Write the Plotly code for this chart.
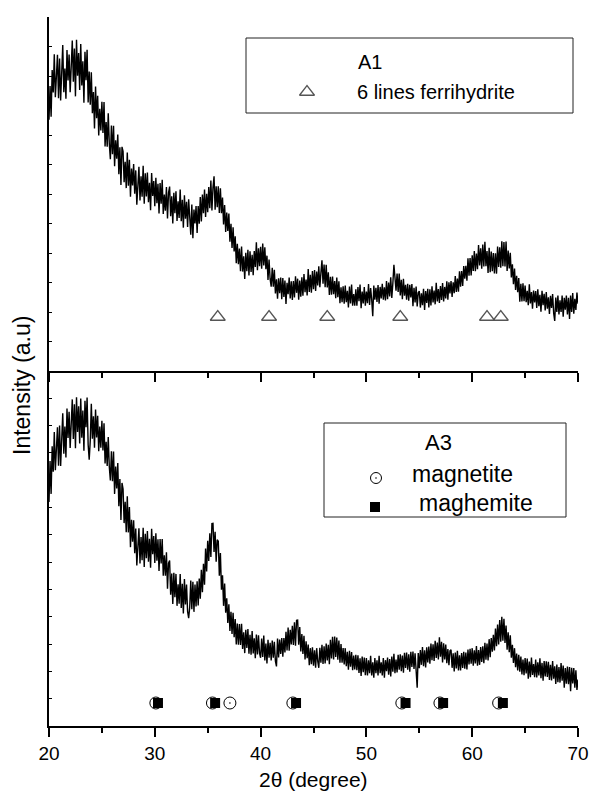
import numpy as np
import plotly.graph_objects as go

# ---- XRD scans: 2-theta from 20 to 70 deg, 0.1 deg step ----
SCAN_START = 20.0
SCAN_STEP = 0.1

# sample A1 (one row per degree: d.0 ... d.9; last value at 70.0)
A1_INTENSITY = [
    852, 966, 862, 1020, 944, 1074, 928, 1023, 1072, 925,
    1059, 917, 1031, 1105, 945, 1025, 923, 1088, 985, 1073,
    945, 1063, 1120, 981, 1093, 931, 1123, 1001, 1078, 953,
    1108, 968, 1050, 909, 1082, 986, 1089, 910, 1015, 903,
    1013, 874, 946, 822, 964, 857, 933, 798, 889, 815,
    913, 807, 912, 761, 844, 760, 874, 770, 718, 832,
    735, 831, 694, 782, 720, 802, 667, 758, 631, 760,
    745, 640, 709, 620, 741, 628, 716, 591, 686, 629,
    702, 601, 680, 564, 650, 692, 578, 660, 591, 696,
    567, 670, 592, 673, 572, 638, 545, 671, 593, 644,
    559, 655, 569, 635, 534, 637, 567, 648, 532, 598,
    543, 624, 517, 604, 625, 525, 592, 500, 604, 535,
    609, 509, 575, 519, 615, 508, 580, 486, 596, 516,
    574, 488, 582, 496, 462, 564, 450, 547, 500, 559,
    468, 559, 499, 590, 507, 598, 535, 615, 522, 601,
    538, 624, 552, 646, 544, 622, 660, 547, 626, 555,
    626, 536, 619, 535, 588, 497, 563, 471, 537, 475,
    534, 438, 499, 417, 487, 405, 457, 365, 431, 362,
    415, 338, 422, 337, 389, 312, 401, 338, 411, 324,
    406, 336, 394, 325, 407, 353, 436, 342, 416, 355,
    421, 347, 432, 358, 419, 345, 391, 309, 378, 312,
    286, 350, 286, 343, 263, 311, 245, 314, 264, 317,
    243, 315, 251, 307, 227, 299, 260, 317, 246, 304,
    241, 305, 249, 321, 265, 313, 242, 307, 252, 318,
    255, 329, 267, 310, 256, 346, 268, 326, 265, 339,
    277, 342, 271, 337, 290, 355, 284, 333, 375, 296,
    361, 284, 360, 283, 335, 258, 319, 259, 320, 260,
    305, 247, 317, 250, 304, 230, 284, 233, 287, 228,
    290, 233, 272, 215, 286, 229, 293, 221, 261, 221,
    277, 221, 285, 237, 293, 213, 269, 229, 285, 221,
    269, 230, 295, 224, 281, 242, 186, 290, 242, 282,
    234, 291, 228, 285, 246, 296, 242, 284, 239, 305,
    243, 300, 253, 318, 248, 297, 360, 317, 272, 330,
    268, 330, 256, 309, 243, 313, 255, 292, 242, 296,
    238, 292, 249, 295, 220, 282, 232, 286, 219, 265,
    271, 215, 263, 223, 279, 207, 271, 231, 279, 215,
    277, 222, 287, 232, 273, 226, 299, 236, 278, 231,
    288, 241, 298, 236, 285, 246, 304, 242, 301, 263,
    305, 251, 301, 264, 322, 268, 313, 269, 338, 286,
    339, 288, 356, 313, 357, 306, 382, 323, 383, 324,
    392, 339, 407, 338, 398, 345, 427, 358, 416, 347,
    429, 354, 438, 355, 407, 332, 418, 335, 405, 338,
    400, 331, 399, 330, 422, 353, 419, 350, 440, 355,
    437, 354, 439, 339, 408, 348, 401, 317, 362, 294,
    347, 275, 323, 267, 315, 235, 296, 236, 297, 237,
    290, 233, 272, 223, 294, 229, 268, 211, 273, 232,
    271, 214, 277, 220, 258, 201, 272, 223, 262, 205,
    268, 211, 250, 193, 255, 214, 261, 196, 170, 249,
    200, 256, 192, 240, 200, 256, 184, 248, 208, 256,
    192, 248, 176, 256, 200, 264, 194, 245, 207, 266,
    228,
]

# sample A3
A3_INTENSITY = [
    820, 970, 850, 1024, 931, 1077, 937, 1045, 1094, 953,
    1100, 952, 1091, 1145, 997, 1097, 983, 1163, 1055, 1151,
    1018, 1144, 1196, 1051, 1178, 1017, 1204, 1077, 1171, 1035,
    1199, 1056, 1155, 1008, 1191, 1094, 1203, 1030, 975, 1045,
    1180, 1052, 1134, 1019, 1159, 1057, 1136, 1006, 1097, 1019,
    1118, 1009, 1109, 961, 1041, 952, 1058, 949, 899, 1006,
    896, 1005, 850, 950, 870, 963, 805, 904, 754, 890,
    868, 743, 821, 710, 841, 709, 802, 655, 755, 675,
    753, 633, 723, 588, 686, 724, 595, 692, 607, 726,
    582, 704, 614, 714, 602, 686, 580, 722, 629, 696,
    597, 706, 605, 684, 568, 685, 595, 685, 550, 625,
    550, 636, 503, 596, 606, 481, 558, 447, 561, 472,
    557, 440, 519, 448, 557, 432, 521, 412, 538, 445,
    518, 420, 395, 435, 533, 428, 528, 418, 518, 438,
    530, 441, 540, 466, 572, 490, 594, 517, 650, 566,
    678, 604, 706, 619, 741, 742, 637, 711, 602, 682,
    677, 550, 633, 499, 552, 440, 522, 415, 468, 377,
    446, 348, 418, 337, 415, 325, 392, 299, 375, 298,
    373, 297, 374, 282, 343, 267, 352, 286, 355, 265,
    334, 261, 348, 266, 321, 248, 335, 262, 332, 267,
    250, 320, 253, 331, 240, 302, 229, 316, 250, 305,
    240, 313, 250, 308, 237, 218, 320, 251, 317, 264,
    322, 254, 322, 269, 345, 277, 361, 276, 352, 299,
    367, 297, 380, 294, 387, 388, 298, 362, 273, 337,
    264, 330, 244, 310, 248, 298, 223, 285, 226, 288,
    221, 277, 213, 285, 237, 213, 286, 232, 297, 227,
    292, 229, 302, 240, 297, 226, 316, 247, 327, 244,
    328, 253, 324, 243, 313, 232, 300, 232, 285, 225,
    285, 219, 272, 206, 275, 217, 271, 204, 258, 207,
    261, 204, 259, 194, 248, 183, 254, 197, 251, 186,
    249, 185, 241, 193, 257, 185, 233, 177, 249, 193,
    241, 185, 257, 193, 233, 185, 249, 177, 241, 201,
    251, 188, 245, 181, 254, 199, 264, 193, 243, 196,
    261, 206, 263, 201, 258, 195, 268, 213, 269, 206,
    263, 199, 272, 216, 273, 209, 266, 210, 140, 267,
    212, 278, 224, 289, 219, 277, 214, 288, 233, 291,
    228, 302, 241, 299, 238, 312, 249, 306, 244, 325,
    254, 308, 233, 303, 244, 298, 230, 282, 223, 275,
    279, 213, 266, 200, 269, 211, 275, 203, 259, 203,
    267, 213, 272, 210, 269, 207, 280, 225, 283, 228,
    285, 221, 277, 229, 293, 221, 278, 224, 289, 235,
    292, 230, 305, 243, 302, 240, 318, 252, 322, 272,
    334, 277, 357, 292, 372, 299, 388, 309, 400, 312,
    393, 304, 368, 279, 343, 270, 332, 250, 297, 231,
    285, 215, 265, 203, 261, 199, 254, 189, 243, 186,
    249, 192, 247, 173, 236, 179, 251, 187, 227, 179,
    243, 178, 233, 185, 248, 175, 231, 166, 238, 181,
    237, 180, 235, 169, 224, 167, 238, 173, 219, 154,
    225, 160, 216, 159, 231, 166, 221, 140, 212, 155,
    218, 153, 216, 127, 213, 156, 212, 140, 204, 132,
    170,
]

# reference reflections (2-theta, deg)
FERRIHYDRITE_PEAKS = [35.95, 40.8, 46.3, 53.2, 61.4, 62.7]
MAGNETITE_PEAKS = [30.1, 35.45, 37.1, 43.05, 53.35, 56.95, 62.5]
MAGHEMITE_PEAKS = [30.3, 35.7, 43.35, 53.7, 57.25, 62.9]

X_RANGE = [20, 70]
TOP_Y_RANGE = [0, 1200]
BOTTOM_Y_RANGE = [0, 1300]

two_theta = np.round(SCAN_START + SCAN_STEP * np.arange(len(A1_INTENSITY)), 2)
assert len(A1_INTENSITY) == len(A3_INTENSITY) == 501

# ---- page geometry (pixels) ----
W, H = 591, 792
PL, PR = 49, 578              # plot left / right
PT, PMID, PB = 17, 371, 726   # top, panel divider, bottom
SPLIT = (PB - PMID) / (PB - PT)

FONT = "Liberation Sans, Arial, sans-serif"


def px_to_x(px):
    return X_RANGE[0] + (px - PL) * (X_RANGE[1] - X_RANGE[0]) / (PR - PL)


def py_to_top(py):
    return (PMID - py) * TOP_Y_RANGE[1] / (PMID - PT)


def py_to_bottom(py):
    return (PB - py) * BOTTOM_Y_RANGE[1] / (PB - PMID)


def paper_x(px):
    return (px - PL) / (PR - PL)


def paper_y(py):
    return (PB - py) / (PB - PT)


TOP_MARK_LEVEL = py_to_top(317)
BOTTOM_MARK_LEVEL = py_to_bottom(703)

fig = go.Figure()

line_style = dict(color="black", width=1.4)
fig.add_trace(go.Scatter(x=two_theta, y=A1_INTENSITY, xaxis="x2", yaxis="y2",
                         mode="lines", line=line_style, hoverinfo="skip"))
fig.add_trace(go.Scatter(x=two_theta, y=A3_INTENSITY, xaxis="x", yaxis="y",
                         mode="lines", line=line_style, hoverinfo="skip"))

tri = dict(symbol="triangle-up-open", size=13, color="#555555",
           line=dict(color="#555555", width=1.3))
circ = dict(symbol="circle-open-dot", size=12, color="black",
            line=dict(color="black", width=1))
sq = dict(symbol="square", size=10, color="black",
          line=dict(color="black", width=0))

# phase markers
fig.add_trace(go.Scatter(x=FERRIHYDRITE_PEAKS, y=[TOP_MARK_LEVEL] * len(FERRIHYDRITE_PEAKS),
                         xaxis="x2", yaxis="y2", mode="markers", marker=tri))
fig.add_trace(go.Scatter(x=MAGNETITE_PEAKS, y=[BOTTOM_MARK_LEVEL] * len(MAGNETITE_PEAKS),
                         xaxis="x", yaxis="y", mode="markers", marker=circ))
fig.add_trace(go.Scatter(x=MAGHEMITE_PEAKS, y=[BOTTOM_MARK_LEVEL] * len(MAGHEMITE_PEAKS),
                         xaxis="x", yaxis="y", mode="markers", marker=sq))

# key symbols inside the boxes
fig.add_trace(go.Scatter(x=[px_to_x(307)], y=[py_to_top(92)], xaxis="x2", yaxis="y2",
                         mode="markers", marker=tri, cliponaxis=False))
fig.add_trace(go.Scatter(x=[px_to_x(376)], y=[py_to_bottom(478)], xaxis="x", yaxis="y",
                         mode="markers", marker=dict(circ, size=11), cliponaxis=False))
fig.add_trace(go.Scatter(x=[px_to_x(375)], y=[py_to_bottom(507)], xaxis="x", yaxis="y",
                         mode="markers", marker=sq, cliponaxis=False))

box_line = dict(color="#222222", width=1)
shapes = [
    dict(type="rect", xref="paper", yref="paper",
         x0=paper_x(246), x1=paper_x(573), y0=paper_y(113), y1=paper_y(38),
         line=box_line, fillcolor="rgba(0,0,0,0)", layer="below"),
    dict(type="rect", xref="paper", yref="paper",
         x0=paper_x(324), x1=paper_x(566), y0=paper_y(517), y1=paper_y(423),
         line=box_line, fillcolor="rgba(0,0,0,0)", layer="below"),
]


def label(text, px, py, size, anchor="left", angle=0):
    return dict(text=text, xref="paper", yref="paper", x=paper_x(px), y=paper_y(py),
                xanchor=anchor, yanchor="middle", showarrow=False, textangle=angle,
                font=dict(family=FONT, size=size, color="black"))


annotations = [
    label("A1", 356, 62, 20),
    label("6 lines ferrihydrite", 355, 92, 20),
    label("A3", 423, 443, 22),
    label("magnetite", 410, 474, 23),
    label("maghemite", 417, 503, 23),
    label("Intensity (a.u)", 22, 386, 23, anchor="center", angle=-90),
    label("2θ (degree)", (PL + PR) / 2, 779, 21, anchor="center"),
]

x_common = dict(range=X_RANGE, showline=True, linecolor="black", linewidth=1.6,
                ticks="outside", ticklen=9, tickwidth=1.6, tickcolor="black",
                tick0=20, dtick=10, showgrid=False, zeroline=False, automargin=False,
                minor=dict(ticks="outside", ticklen=5, tickwidth=1.6,
                           tickcolor="black", tick0=20, dtick=5, showgrid=False))
y_common = dict(showline=True, linecolor="black", linewidth=1.6,
                ticks="inside", ticklen=3, tickwidth=1, tickcolor="black",
                tick0=0, dtick=100, showticklabels=False, showgrid=False,
                zeroline=False, automargin=False)

fig.update_layout(
    width=W, height=H, autosize=False,
    margin=dict(l=PL, r=W - PR, t=PT, b=H - PB, pad=0, autoexpand=False),
    paper_bgcolor="white", plot_bgcolor="white",
    showlegend=False,
    font=dict(family=FONT, size=19, color="black"),
    xaxis=dict(x_common, anchor="y", tickfont=dict(family=FONT, size=19)),
    yaxis=dict(y_common, domain=[0, SPLIT], range=BOTTOM_Y_RANGE, anchor="x"),
    xaxis2=dict(x_common, anchor="y2", showticklabels=False),
    yaxis2=dict(y_common, domain=[SPLIT, 1], range=TOP_Y_RANGE, anchor="x2"),
    shapes=shapes,
    annotations=annotations,
)

fig.write_html("out.html")
